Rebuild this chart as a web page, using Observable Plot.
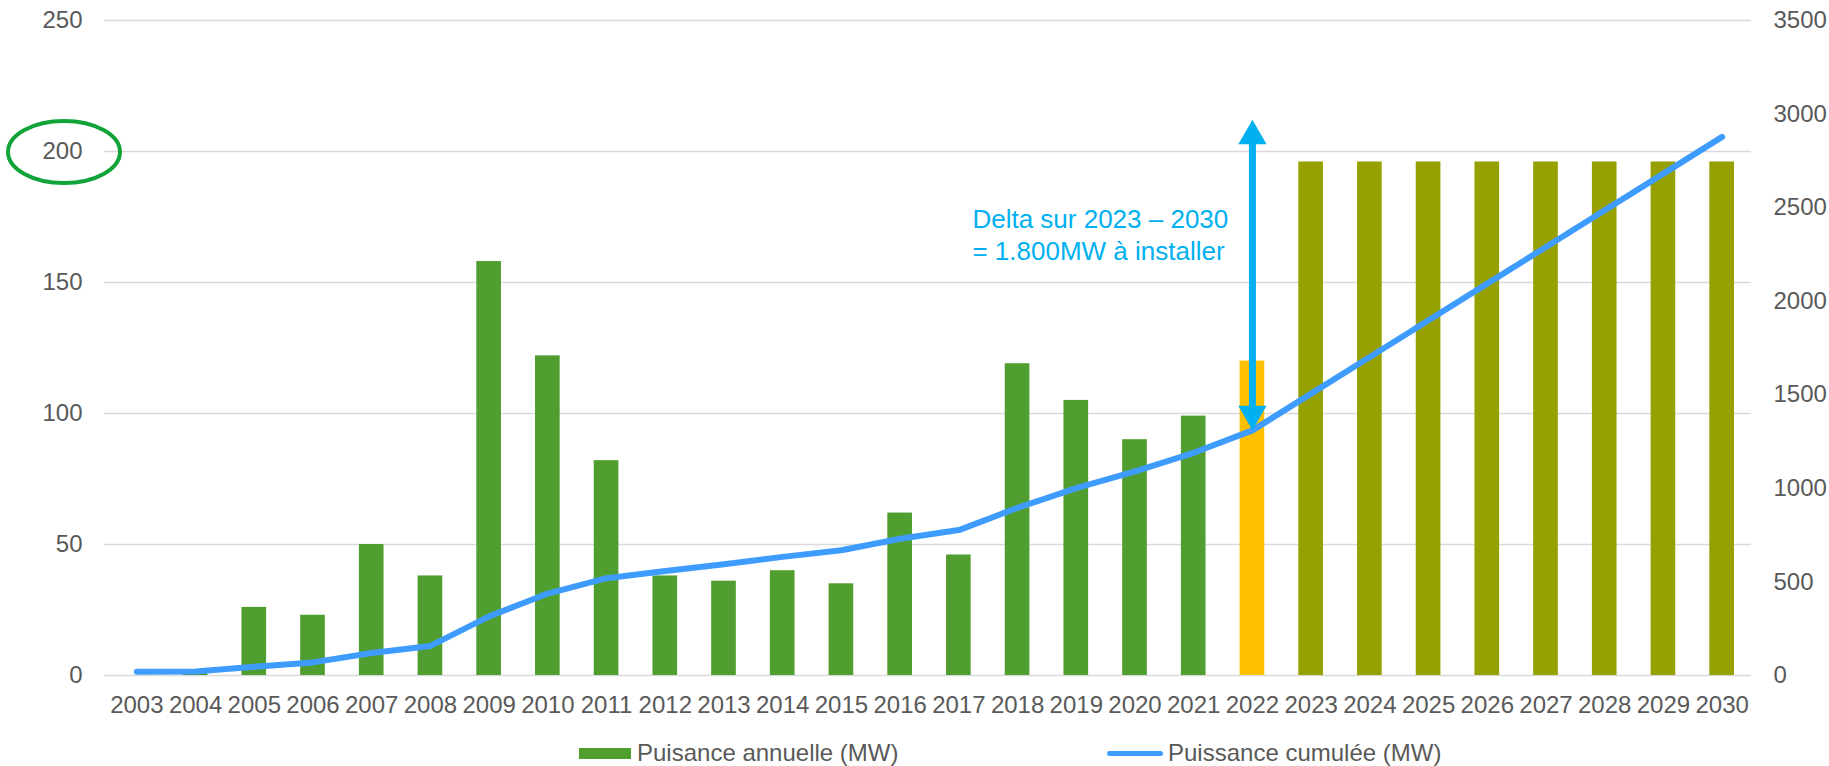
<!DOCTYPE html>
<html>
<head>
<meta charset="utf-8">
<script src="https://cdn.jsdelivr.net/npm/d3@7"></script>
<script src="https://cdn.jsdelivr.net/npm/@observablehq/plot@0.6"></script>
<style>
  html, body { margin: 0; padding: 0; background: #fff; }
  #chart { width: 1829px; position: relative; font-family: "Liberation Sans", Arial, sans-serif; color: #595959; }
  #legend { position: relative; width: 1829px; height: 41px; font-size: 24px; }
  .item { position: absolute; top: 16px; height: 24px; line-height: 24px; display: flex; align-items: center; white-space: nowrap; }
  .sw-bar { width: 52px; height: 11px; margin-right: 6px; }
  .sw-line { width: 56px; height: 5px; border-radius: 3px; margin-right: 5px; }
</style>
</head>
<body>
<div id="chart"></div>
<script>
// ---- data ----
const years = [2003, 2004, 2005, 2006, 2007, 2008, 2009, 2010, 2011, 2012, 2013, 2014, 2015, 2016,
               2017, 2018, 2019, 2020, 2021, 2022, 2023, 2024, 2025, 2026, 2027, 2028, 2029, 2030];
const annualMW = [0, 1, 26, 23, 50, 38, 158, 122, 82, 38, 36, 40, 35, 62,
                  46, 119, 105, 90, 99, 120, 196, 196, 196, 196, 196, 196, 196, 196];
const cumulativeMW = [20, 21, 47, 70, 120, 158, 316, 438, 520, 558, 594, 634, 669, 731,
                      777, 896, 1001, 1091, 1190, 1310, 1506, 1702, 1898, 2094, 2290, 2486, 2682, 2878];
const leftTicks = [0, 50, 100, 150, 200, 250];
const rightTicks = [0, 500, 1000, 1500, 2000, 2500, 3000, 3500];
const seriesNames = ["Puisance annuelle (MW)", "Puissance cumulée (MW)"];

// annotation (values on the right axis, MW)
const arrowYear = 2022;
const arrowFromMW = 1330;
const arrowToMW = 2950;
const noteMW = 2360;
const noteText = "Delta sur 2023 – 2030\n= 1.800MW à installer";
const highlightTick = 200;

// ---- styles ----
const GREEN = "#519E30", OLIVE = "#96A000", YELLOW = "#FFC000";
const BLUE = "#3E9CFF", CYAN = "#00B0F0", GRID = "#D9D9D9";
const ratio = rightTicks[rightTicks.length - 1] / leftTicks[leftTicks.length - 1];

const table = years.map((year, i) => ({year, annual: annualMW[i], cumulative: cumulativeMW[i]}));
const phaseColor = (y) => y < 2022 ? GREEN : (y === 2022 ? YELLOW : OLIVE);

const arrowData = [{year: arrowYear, from: arrowFromMW / ratio, to: arrowToMW / ratio}];
const noteData = [{year: arrowYear, v: noteMW / ratio, text: noteText}];

const marginLeft = 104, tickPad = 22;

const plot = Plot.plot({
  width: 1829,
  height: 725,
  marginLeft,
  marginRight: 78,
  marginTop: 20,
  marginBottom: 50,
  style: {fontFamily: "Liberation Sans, Arial, sans-serif", fontSize: "24px", color: "#595959", background: "#fff"},
  x: {type: "band", domain: years, paddingInner: 0.58, paddingOuter: 0.29, round: false, insetLeft: 3, label: null},
  y: {domain: [0, 250], label: null},
  marks: [
    Plot.gridY(leftTicks, {stroke: GRID, strokeOpacity: 1, strokeWidth: 1.6}),
    Plot.barY(table, {x: "year", y: "annual", fill: d => phaseColor(d.year)}),
    Plot.line(table, {x: "year", y: d => d.cumulative / ratio, stroke: BLUE, strokeWidth: 6,
                      strokeLinecap: "round", strokeLinejoin: "round"}),
    Plot.axisX({tickSize: 0, tickPadding: 20, label: null, tickFormat: d => `${d}`}),
    Plot.axisY(leftTicks, {tickSize: 0, tickPadding: tickPad, label: null}),
    Plot.axisY(rightTicks.map(v => v / ratio), {anchor: "right", tickSize: 0, tickPadding: tickPad, label: null,
                      tickFormat: d => `${Math.round(d * ratio)}`}),
    Plot.ruleX(arrowData, {x: "year", y1: "to", y2: "from", stroke: CYAN, strokeWidth: 7, insetTop: 14, insetBottom: 14}),
    Plot.dot(arrowData, {x: "year", y: "to", symbol: "triangle", r: 10.5, fill: CYAN, stroke: null, dy: 12.7}),
    Plot.dot(arrowData, {x: "year", y: "from", symbol: "triangle", r: 10.5, fill: CYAN, stroke: null, rotate: 180, dy: -12.7}),
    Plot.text(noteData, {x: "year", y: "v", text: "text", textAnchor: "start", dx: -280, fontSize: 26,
                         fill: CYAN, lineHeight: 1.23})
  ]
});

// green highlight ellipse around the 200 tick label
const yPos = plot.scale("y").apply(highlightTick);
const ell = document.createElementNS("http://www.w3.org/2000/svg", "ellipse");
ell.setAttribute("cx", marginLeft - tickPad - 18);
ell.setAttribute("cy", yPos + 1);
ell.setAttribute("rx", 56);
ell.setAttribute("ry", 31);
ell.setAttribute("fill", "none");
ell.setAttribute("stroke", "#12A33A");
ell.setAttribute("stroke-width", 4);
plot.appendChild(ell);

const chart = document.getElementById("chart");
chart.appendChild(plot);

// legend below the svg
const legend = document.createElement("div");
legend.id = "legend";
legend.innerHTML = `
  <div class="item" style="left:579px"><div class="sw-bar" style="background:${GREEN}"></div>${seriesNames[0]}</div>
  <div class="item" style="left:1107px"><div class="sw-line" style="background:${BLUE}"></div>${seriesNames[1]}</div>`;
chart.appendChild(legend);
</script>
</body>
</html>
